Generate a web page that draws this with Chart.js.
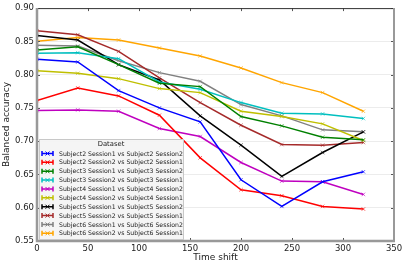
<!DOCTYPE html>
<html>
<head>
<meta charset="utf-8">
<script src="https://cdn.jsdelivr.net/npm/chart.js@4.4.0/dist/chart.umd.min.js"></script>
<style>
  html, body { margin: 0; padding: 0; background: #fff; }
  #wrap { width: 407px; height: 268px; }
</style>
</head>
<body>
<div id="wrap"><canvas id="chart" width="407" height="268"></canvas></div>
<script>
// time shifts on the x axis
const timeShift = [0, 40, 80, 120, 160, 200, 240, 280, 320];

// balanced accuracy per dataset
const s2s1 = [0.823, 0.819, 0.776, 0.750, 0.729, 0.642, 0.602, 0.639, 0.654];
const s2s2 = [0.761, 0.780, 0.768, 0.739, 0.675, 0.627, 0.618, 0.602, 0.598];
const s3s1 = [0.837, 0.842, 0.815, 0.787, 0.782, 0.737, 0.723, 0.706, 0.702];
const s3s2 = [0.832, 0.833, 0.824, 0.789, 0.778, 0.758, 0.742, 0.741, 0.734];
const s4s1 = [0.746, 0.747, 0.745, 0.719, 0.707, 0.668, 0.640, 0.639, 0.620];
const s4s2 = [0.806, 0.802, 0.794, 0.779, 0.773, 0.745, 0.737, 0.726, 0.701];
const s5s1 = [0.859, 0.852, 0.815, 0.792, 0.738, 0.694, 0.647, 0.683, 0.714];
const s5s2 = [0.866, 0.860, 0.835, 0.795, 0.758, 0.724, 0.695, 0.694, 0.698];
const s6s1 = [0.844, 0.843, 0.821, 0.803, 0.790, 0.755, 0.738, 0.717, 0.714];
const s6s2 = [0.850, 0.856, 0.852, 0.840, 0.828, 0.810, 0.788, 0.773, 0.745];

const labels = [
    'Subject2 Session1 vs Subject2 Session2',
    'Subject2 Session2 vs Subject2 Session1',
    'Subject3 Session1 vs Subject3 Session2',
    'Subject3 Session2 vs Subject3 Session1',
    'Subject4 Session1 vs Subject4 Session2',
    'Subject4 Session2 vs Subject4 Session1',
    'Subject5 Session1 vs Subject5 Session2',
    'Subject5 Session2 vs Subject5 Session1',
    'Subject6 Session1 vs Subject6 Session2',
    'Subject6 Session2 vs Subject6 Session1',
];
const series = [s2s1, s2s2, s3s1, s3s2, s4s1, s4s2, s5s1, s5s2, s6s1, s6s2];
const colors = ['#0000ff', '#ff0000', '#008000', '#00bfbf', '#bf00bf',
                '#bfbf00', '#000000', '#a52a2a', '#808080', '#ffa500'];

const yTicks = [0.55, 0.60, 0.65, 0.70, 0.75, 0.80, 0.85, 0.90];
const xTicks = [0, 50, 100, 150, 200, 250, 300, 350];

const FONT = 'DejaVu Sans';

// frame, inward ticks and the legend box
const framePlugin = {
    id: 'frame',
    afterDatasetsDraw(chart) {
        const ctx = chart.ctx;
        const a = chart.chartArea;
        const xs = chart.scales.x;
        const ys = chart.scales.y;
        ctx.save();
        // ticks
        ctx.strokeStyle = '#555';
        ctx.lineWidth = 1;
        xTicks.forEach(t => {
            const px = Math.round(xs.getPixelForValue(t)) + 0.5;
            ctx.beginPath();
            ctx.moveTo(px, a.top); ctx.lineTo(px, a.top + 3);
            ctx.moveTo(px, a.bottom); ctx.lineTo(px, a.bottom - 3);
            ctx.stroke();
        });
        yTicks.forEach(t => {
            const py = Math.round(ys.getPixelForValue(t)) + 0.5;
            ctx.beginPath();
            ctx.moveTo(a.left, py); ctx.lineTo(a.left + 3, py);
            ctx.moveTo(a.right, py); ctx.lineTo(a.right - 3, py);
            ctx.stroke();
        });
        // spines
        ctx.strokeStyle = '#333';
        ctx.lineWidth = 1;
        ctx.beginPath();
        ctx.moveTo(a.left, a.top + 0.5); ctx.lineTo(a.right, a.top + 0.5);
        ctx.stroke();
        ctx.strokeStyle = '#999';
        ctx.lineWidth = 2;
        ctx.beginPath();
        ctx.moveTo(a.right, a.top); ctx.lineTo(a.right, a.bottom);
        ctx.stroke();
        ctx.lineWidth = 2.5;
        ctx.beginPath();
        ctx.moveTo(a.left, a.top); ctx.lineTo(a.left, a.bottom);
        ctx.lineTo(a.right + 1, a.bottom);
        ctx.stroke();

        // legend
        const lx = 39, ly = 139, lw = 144, lh = 100;
        ctx.fillStyle = 'rgba(244,244,244,0.92)';
        ctx.strokeStyle = '#c8c8c8';
        ctx.lineWidth = 1;
        ctx.fillRect(lx, ly, lw, lh);
        ctx.strokeRect(lx + 0.5, ly + 0.5, lw, lh);
        ctx.fillStyle = '#222';
        ctx.font = '6.8px "' + FONT + '"';
        ctx.textAlign = 'center';
        ctx.textBaseline = 'middle';
        ctx.fillText('Dataset', lx + 72, 144.5);
        ctx.font = '6.2px "' + FONT + '"';
        ctx.textAlign = 'left';
        labels.forEach((lab, i) => {
            const cy = 153.5 + i * 8.87;
            const c = colors[i];
            ctx.strokeStyle = c;
            ctx.lineWidth = 1.5;
            ctx.beginPath();
            ctx.moveTo(42, cy); ctx.lineTo(53, cy);
            ctx.moveTo(42, cy - 2.5); ctx.lineTo(42, cy + 2.5);
            ctx.moveTo(53, cy - 2.5); ctx.lineTo(53, cy + 2.5);
            ctx.stroke();
            ctx.lineWidth = 1;
            ctx.beginPath();
            ctx.moveTo(45.5, cy - 2); ctx.lineTo(49.5, cy + 2);
            ctx.moveTo(45.5, cy + 2); ctx.lineTo(49.5, cy - 2);
            ctx.stroke();
            ctx.fillStyle = '#222';
            ctx.fillText(lab, 59, cy + 0.5);
        });
        ctx.restore();
    }
};

const datasets = series.map((vals, i) => ({
    label: labels[i],
    data: vals.map((v, j) => ({ x: timeShift[j], y: v })),
    borderColor: colors[i],
    backgroundColor: colors[i],
    borderWidth: 1.5,
    pointStyle: 'crossRot',
    pointRadius: 2.5,
    pointBorderWidth: 1,
    pointBorderColor: colors[i] + '99',
    tension: 0,
}));

new Chart(document.getElementById('chart'), {
    type: 'line',
    data: { datasets },
    plugins: [framePlugin],
    options: {
        responsive: false,
        animation: false,
        layout: { padding: { top: 8, right: 13, left: 0, bottom: 0 } },
        plugins: { legend: { display: false }, tooltip: { enabled: false } },
        scales: {
            x: {
                type: 'linear',
                min: 0, max: 350,
                afterBuildTicks: s => { s.ticks = xTicks.map(v => ({ value: v })); },
                afterFit: s => { s.height = 27; },
                grid: { display: false, drawTicks: false },
                border: { display: false },
                ticks: { font: { family: FONT, size: 8.5 }, color: '#222', padding: 3 },
                title: { display: true, text: 'Time shift', font: { family: FONT, size: 9 }, color: '#222', padding: { top: 0, bottom: 5 } },
            },
            y: {
                min: 0.55, max: 0.90,
                afterBuildTicks: s => { s.ticks = yTicks.map(v => ({ value: v })); },
                afterFit: s => { s.width = 37; },
                grid: { color: '#ececec', drawTicks: false, lineWidth: 1 },
                border: { display: false },
                ticks: { font: { family: FONT, size: 8.5 }, color: '#222', padding: 3, callback: v => v.toFixed(2) },
                title: { display: true, text: 'Balanced accuracy', font: { family: FONT, size: 9 }, color: '#222', padding: { top: 1, bottom: 0 } },
            },
        },
    },
});
</script>
</body>
</html>
